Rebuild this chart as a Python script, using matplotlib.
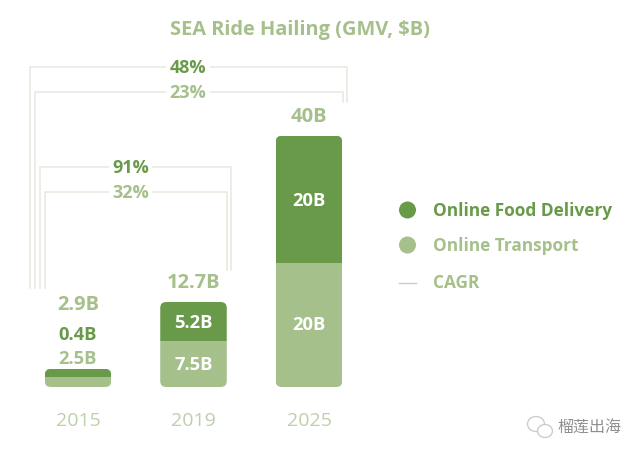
import matplotlib
matplotlib.use("Agg")
import matplotlib.pyplot as plt
from matplotlib.patches import FancyBboxPatch, Circle, Ellipse

plt.rcParams['font.family'] = ['Open Sans', 'DejaVu Sans']

# === Data ===
years = ['2015', '2019', '2025']
# bar heights as drawn in the picture ($B, the original isn't to scale for small bars)
transport_heights = [1.6, 7.3, 19.8]
food_heights = [1.3, 6.3, 20.4]
transport_labels = ['2.5B', '7.5B', '20B']
food_labels = ['0.4B', '5.2B', '20B']
total_labels = ['2.9B', '12.7B', '40B']
legend_names = ['Online Food Delivery', 'Online Transport', 'CAGR']
cagr_outer = ['48%', '23%']
cagr_inner = ['91%', '32%']

DARK = '#689a49'
LIGHT = '#a5c08b'
YEAR = '#bdd0aa'
LINE = '#e4eadc'

W, H = 640, 457
fig = plt.figure(figsize=(W / 100, H / 100), dpi=100, facecolor='white')

# overlay in pixel coords for brackets, text and legend
over = fig.add_axes([0, 0, 1, 1])
over.set_xlim(0, W)
over.set_ylim(H, 0)
over.axis('off')
over.set_zorder(3)

# === Bars ===
PX_X = 115.5
PX_Y = 6.25
base = 387
ax_left = 78 - 0.5 * PX_X
ax = fig.add_axes([ax_left / W, (H - base) / H, 3 * PX_X / W, 44 * PX_Y / H])
ax.set_xlim(-0.5, 2.5)
ax.set_ylim(0, 44)
ax.axis('off')

bar_w = 0.576
radius_x = 6 / PX_X
for i in range(len(years)):
    total = transport_heights[i] + food_heights[i]
    clip = FancyBboxPatch((i - bar_w / 2, 0), bar_w, total,
                          boxstyle=f'round,pad=0,rounding_size={radius_x}',
                          mutation_aspect=(6 / PX_Y) / radius_x,
                          facecolor='none', edgecolor='none')
    ax.add_patch(clip)
    b1 = ax.bar(i, transport_heights[i], bar_w, color=LIGHT)
    b2 = ax.bar(i, food_heights[i], bar_w, bottom=transport_heights[i], color=DARK)
    b1[0].set_clip_path(clip)
    b2[0].set_clip_path(clip)

# === CAGR brackets ===
def bracket(x0, x1, top, y0, y1):
    over.plot([x0, x0, x1, x1], [y0, top, top, y1], color=LINE, lw=1.1,
              solid_joinstyle='miter', zorder=1)

bracket(30, 347, 67, 288, 102)
bracket(35, 342.5, 92, 288, 102)
bracket(40, 231, 167, 288, 270)
bracket(44.5, 227, 192, 288, 270)

def cagr_text(x, y, s, color):
    over.text(x, y, s, color=color, fontsize=13, fontweight='bold', ha='center', va='center',
              zorder=2, bbox=dict(facecolor='white', edgecolor='none', pad=2.5))

cagr_text(188, 68, cagr_outer[0], DARK)
cagr_text(188, 93, cagr_outer[1], LIGHT)
cagr_text(130.5, 168, cagr_inner[0], DARK)
cagr_text(130.5, 193, cagr_inner[1], LIGHT)

# === Text ===
over.text(300, 29.5, 'SEA Ride Hailing (GMV, $B)', color=LIGHT, fontsize=14.4, fontweight='bold',
          ha='center', va='center')

centers = [78, 193.5, 309]
total_y = [304.5, 283.5, 117.5]
for c, y, s in zip(centers, total_y, total_labels):
    over.text(c, y, s, color=LIGHT, fontsize=14.5, fontweight='bold', ha='center', va='center')

# 2015 labels sit above the bar, the rest inside
over.text(78, 335.5, food_labels[0], color=DARK, fontsize=13.2, fontweight='bold', ha='center', va='center')
over.text(78, 358.5, transport_labels[0], color=LIGHT, fontsize=13.2, fontweight='bold', ha='center', va='center')
over.text(193.5, 322.5, food_labels[1], color='white', fontsize=13.2, fontweight='bold', ha='center', va='center')
over.text(193.5, 365.5, transport_labels[1], color='white', fontsize=13.2, fontweight='bold', ha='center', va='center')
over.text(309, 200.5, food_labels[2], color='white', fontsize=13.2, fontweight='bold', ha='center', va='center')
over.text(309, 324.5, transport_labels[2], color='white', fontsize=13.2, fontweight='bold', ha='center', va='center')

for c, s in zip(centers, years):
    over.text(c, 421, s, color=YEAR, fontsize=14, ha='center', va='center')

# === Legend ===
over.add_patch(Circle((407.5, 210), 8.5, facecolor=DARK, edgecolor='none'))
over.add_patch(Circle((407.5, 245), 8.5, facecolor=LIGHT, edgecolor='none'))
over.plot([399, 416], [283, 283], color='#c5d6b5', lw=1)
over.text(433, 211, legend_names[0], color=DARK, fontsize=12.4, fontweight='bold', va='center')
over.text(433, 246, legend_names[1], color=LIGHT, fontsize=12.4, fontweight='bold', va='center')
over.text(433, 283, legend_names[2], color=LIGHT, fontsize=12.4, fontweight='bold', va='center')

# === Watermark ===
over.add_patch(Ellipse((536, 424), 17, 15, facecolor='white', edgecolor='#cccccc', lw=1))
over.add_patch(Ellipse((545, 431), 15, 13, facecolor='white', edgecolor='#cccccc', lw=1))
over.text(589, 428, '榴莲出海', color='#8f8f8f', fontsize=11.5,
          family=['Noto Sans CJK SC', 'DejaVu Sans'], ha='center', va='center')

fig.savefig('out.png', dpi=100)
